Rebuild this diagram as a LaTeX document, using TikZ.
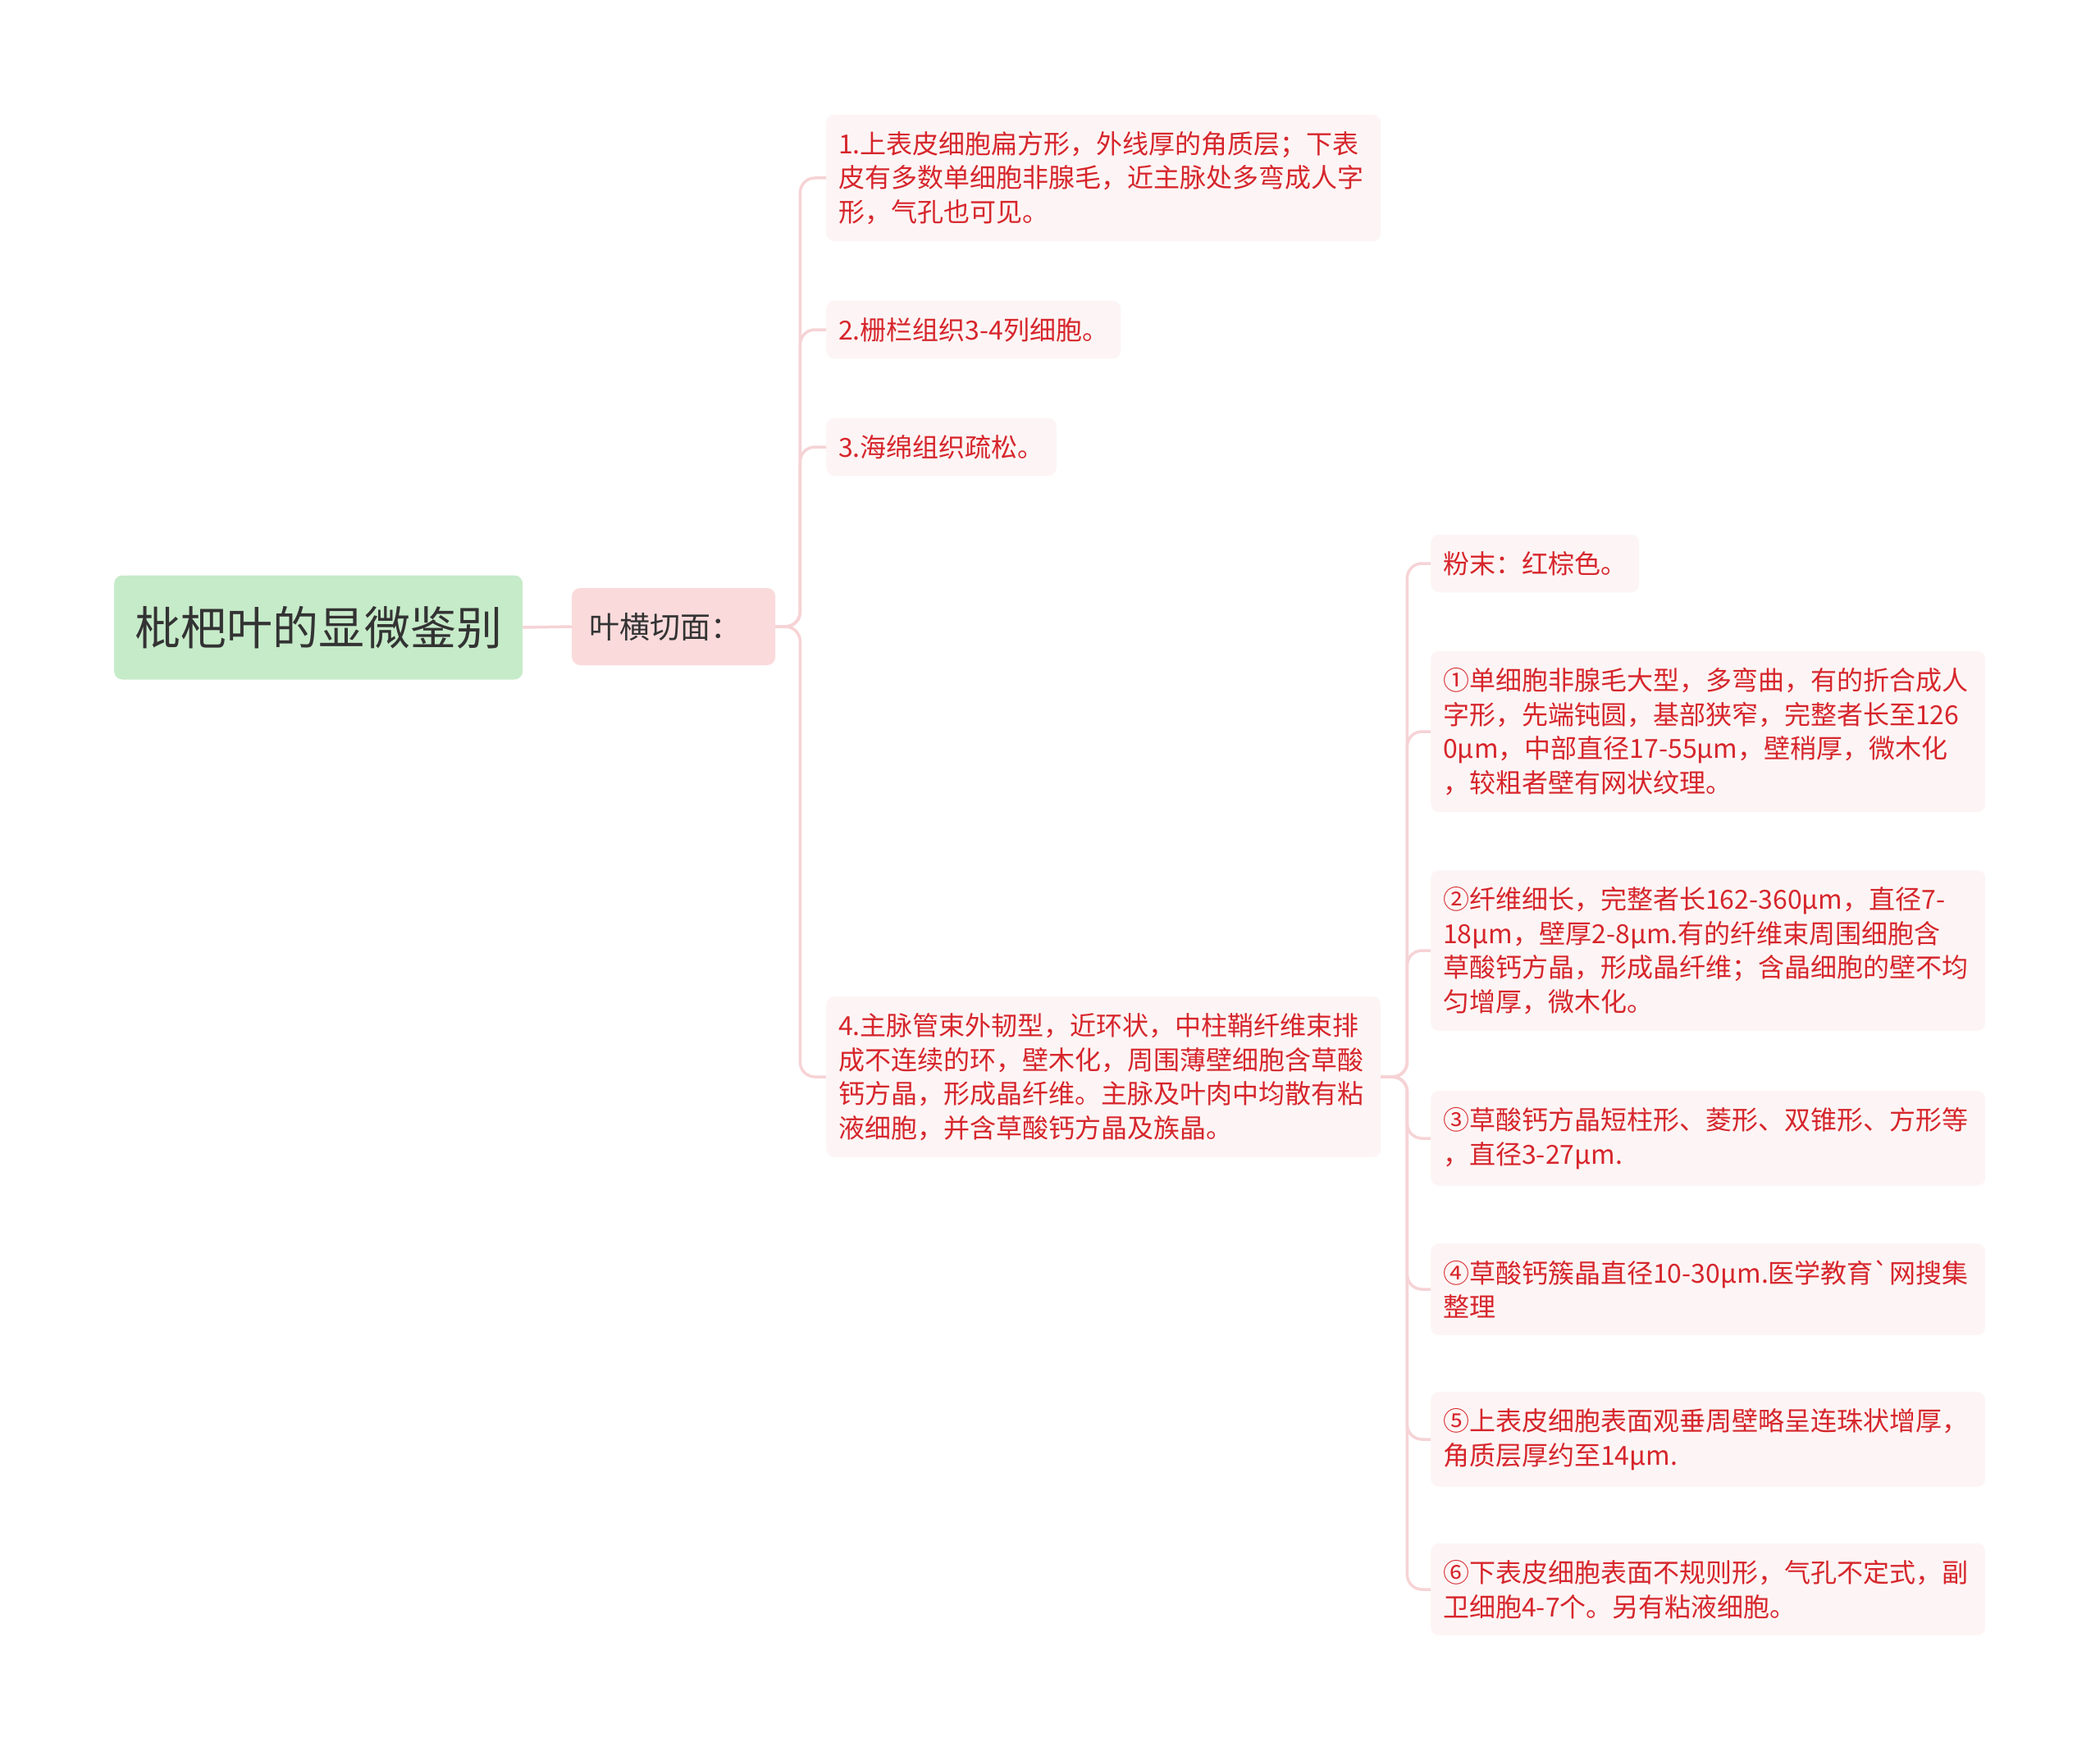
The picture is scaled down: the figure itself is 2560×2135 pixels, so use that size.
\documentclass[tikz,border=0pt]{standalone}
\usepackage{fontspec}
\setmainfont{Noto Sans CJK SC}[Ligatures=TeXOff]
\definecolor{rootfill}{HTML}{C6EBC9}
\definecolor{cutfill}{HTML}{FADADB}
\definecolor{leaffill}{HTML}{FDF5F5}
\definecolor{leaftext}{HTML}{D6262C}
\definecolor{linkpink}{HTML}{F6D3D5}
\tikzset{
  rootbox/.style={fill=rootfill,rounded corners=10pt,anchor=west,minimum width=498pt,minimum height=127pt,text=black!80,font=\fontsize{56}{62}\selectfont},
  cutbox/.style={fill=cutfill,rounded corners=10pt,anchor=west,minimum width=248pt,minimum height=94pt,inner xsep=21pt,text width=206pt,align=left,text=black!80,font=\fontsize{37}{42}\selectfont},
  leaf/.style={fill=leaffill,rounded corners=10pt,anchor=west,inner xsep=15pt,inner ysep=20.5pt,align=left,text=leaftext,font=\fontsize{32}{41.6}\selectfont},
  wideleaf/.style={leaf,text width=646pt},
  link/.style={draw=linkpink,line width=3.5pt,rounded corners=18pt}
}
\begin{document}
\begin{tikzpicture}[x=1pt,y=-1pt]
\useasboundingbox (0,0) rectangle (2560,2135);
\node[rootbox] (root) at (139,765) {枇杷叶的显微鉴别};
\node[cutbox] (cut) at (697,764) {叶横切面：};
% leaf cross section
\node[wideleaf] (c1) at (1007,217) {1.上表皮细胞扁方形，外线厚的角质层；下表\\皮有多数单细胞非腺毛，近主脉处多弯成人字\\形，气孔也可见。};
\node[leaf] (c2) at (1007,402) {2.栅栏组织3-4列细胞。};
\node[leaf] (c3) at (1007,545) {3.海绵组织疏松。};
\node[wideleaf] (c4) at (1007,1313) {4.主脉管束外韧型，近环状，中柱鞘纤维束排\\成不连续的环，壁木化，周围薄壁细胞含草酸\\钙方晶，形成晶纤维。主脉及叶肉中均散有粘\\液细胞，并含草酸钙方晶及族晶。};
% powder
\node[leaf] (p0) at (1744,687) {粉末：红棕色。};
\node[wideleaf] (p1) at (1744,892) {①单细胞非腺毛大型，多弯曲，有的折合成人\\字形，先端钝圆，基部狭窄，完整者长至126\\0μm，中部直径17-55μm，壁稍厚，微木化\\，较粗者壁有网状纹理。};
\node[wideleaf] (p2) at (1744,1159) {②纤维细长，完整者长162-360μm，直径7-\\18μm，壁厚2-8μm.有的纤维束周围细胞含\\草酸钙方晶，形成晶纤维；含晶细胞的壁不均\\匀增厚，微木化。};
\node[wideleaf] (p3) at (1744,1388) {③草酸钙方晶短柱形、菱形、双锥形、方形等\\，直径3-27μm.};
\node[wideleaf] (p4) at (1744,1572) {\mbox{④草酸钙簇晶直径10-30μm.医学教育`网搜集}\\整理};
\node[wideleaf] (p5) at (1744,1755) {⑤上表皮细胞表面观垂周壁略呈连珠状增厚，\\角质层厚约至14μm.};
\node[wideleaf] (p6) at (1744,1938) {⑥下表皮细胞表面不规则形，气孔不定式，副\\卫细胞4-7个。另有粘液细胞。};
\draw[link] (root.east) -- (cut.west);
\foreach \c in {c1,c2,c3,c4}{\draw[link] (cut.east) -- ++(30,0) |- (\c.west);}
\foreach \p in {p0,p1,p2,p3,p4,p5,p6}{\draw[link] (c4.east) -- ++(32,0) |- (\p.west);}
\end{tikzpicture}
\end{document}
